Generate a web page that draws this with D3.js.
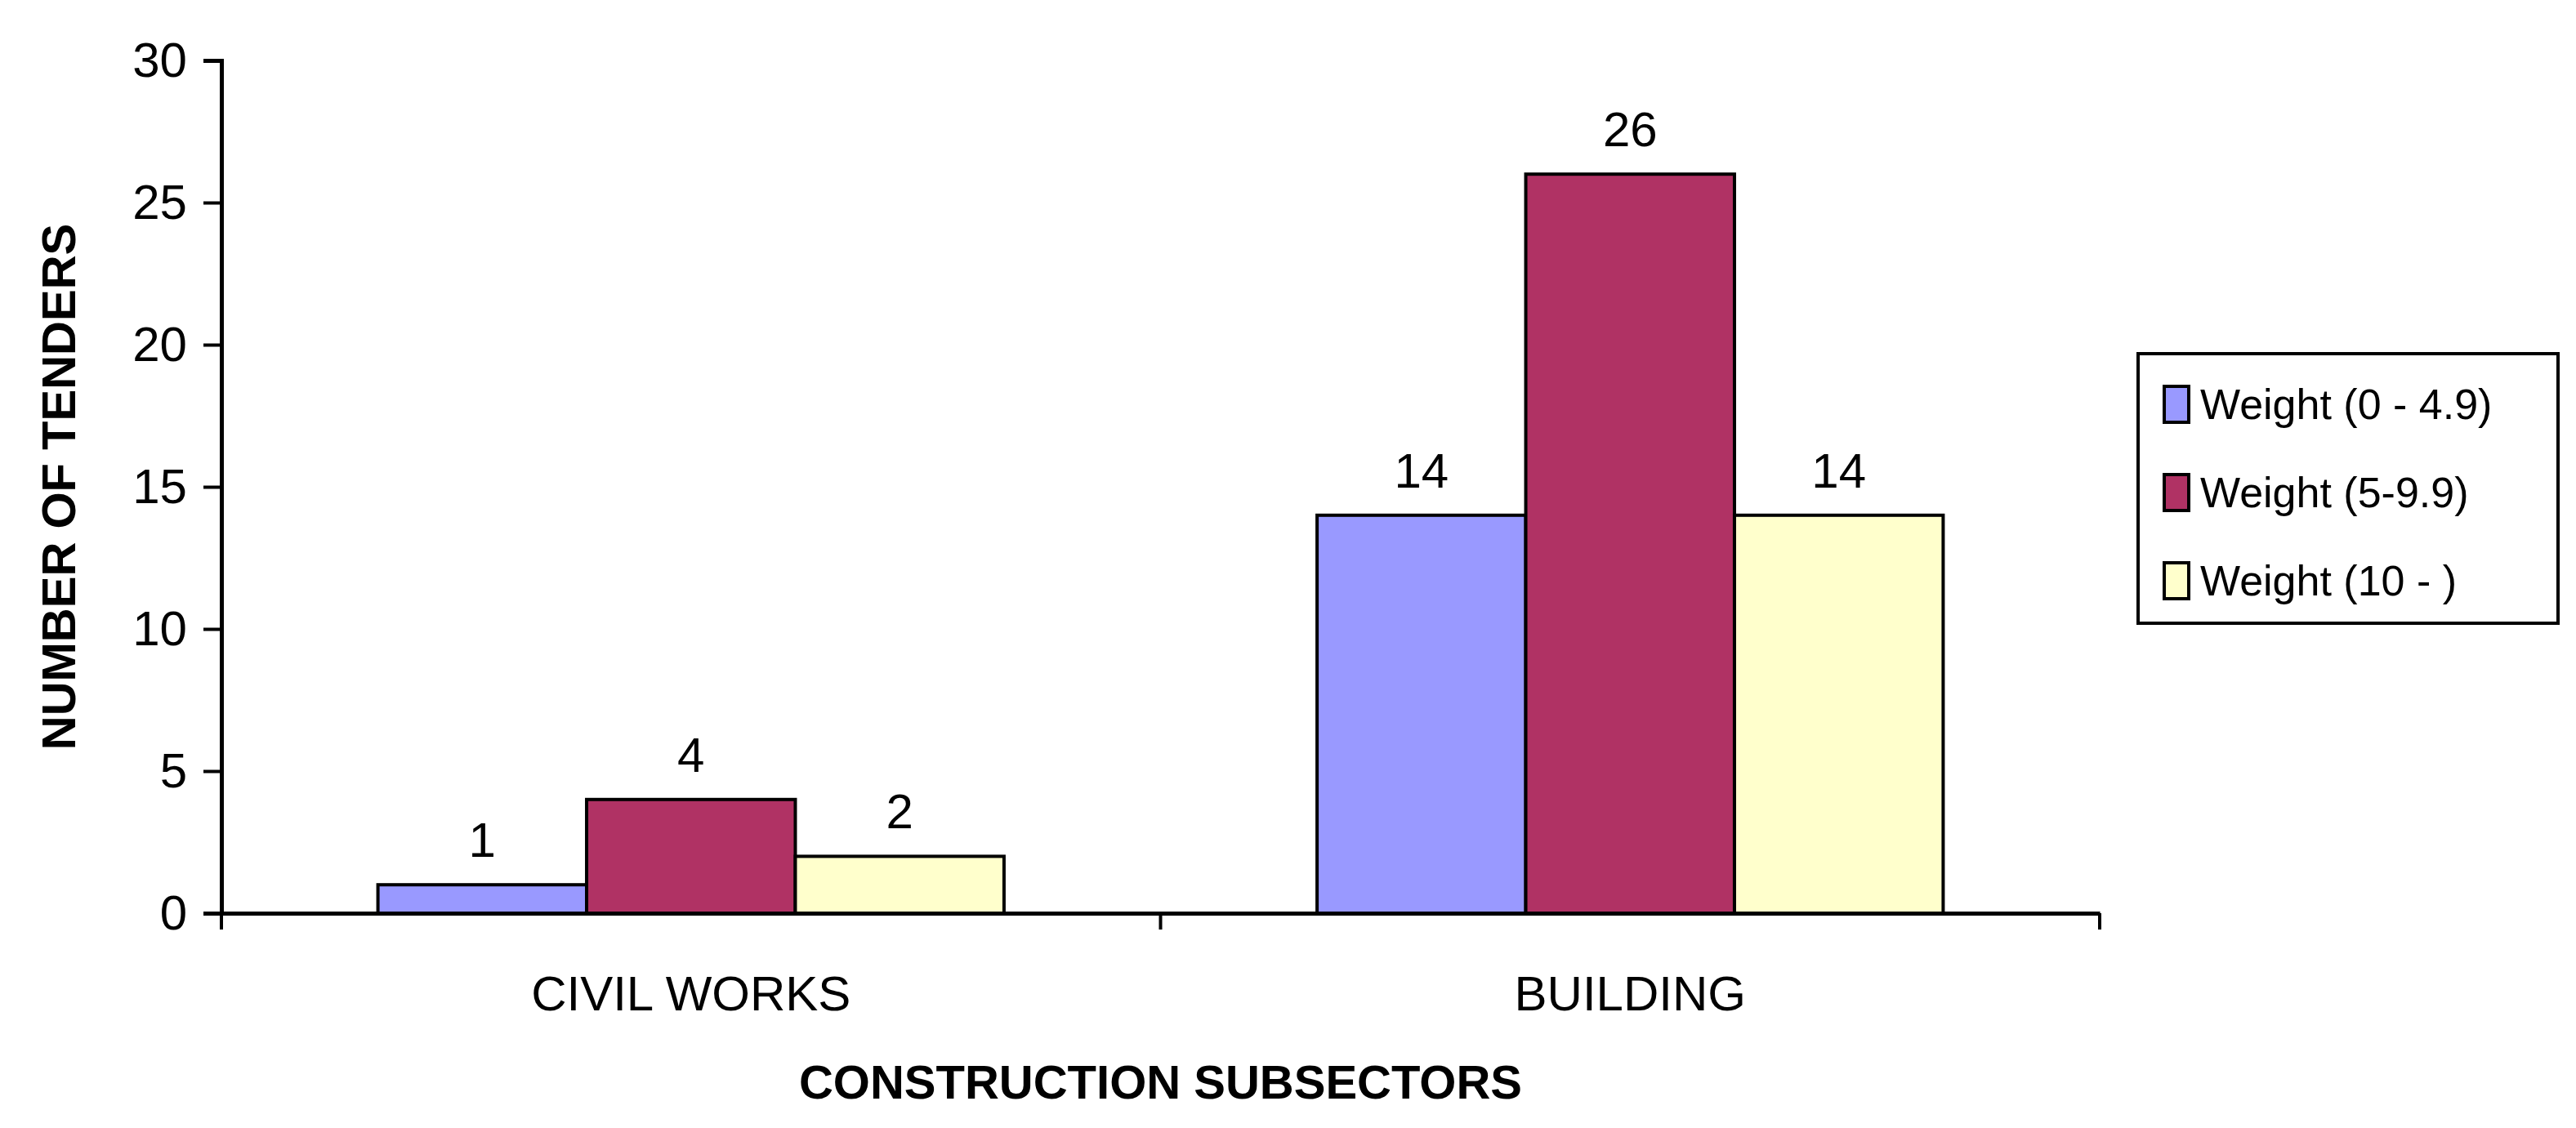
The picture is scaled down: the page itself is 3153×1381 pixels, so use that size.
<!DOCTYPE html>
<html>
<head>
<meta charset="utf-8">
<script src="https://cdn.jsdelivr.net/npm/d3@7"></script>
<style>
  body { margin: 0; background: #fff; }
  text { font-family: Arial, "Liberation Sans", sans-serif; }
</style>
</head>
<body>
<svg width="3153" height="1381"></svg>
<script>
// data
var categories = ["CIVIL WORKS", "BUILDING"];
var seriesNames = ["Weight (0 - 4.9)", "Weight (5-9.9)", "Weight (10 - )"];
var seriesColors = ["#9999FF", "#B03264", "#FFFFCC"];
var lowWeight = [1, 14];
var midWeight = [4, 26];
var highWeight = [2, 14];
var yTicks = [0, 5, 10, 15, 20, 25, 30];

var values = [lowWeight, midWeight, highWeight];

var svg = d3.select("svg"),
    margin = {top: 74, left: 271},
    width = 2570 - 271,
    height = 1118 - 74,
    g = svg.append("g").attr("transform", "translate(" + margin.left + "," + margin.top + ")");

var x0 = d3.scaleBand().domain(categories).range([0, width]).paddingInner(0).paddingOuter(0);
var x1 = d3.scaleBand().domain(d3.range(seriesNames.length))
    .range([x0.bandwidth() / 6, x0.bandwidth() * 5 / 6]);
var y = d3.scaleLinear().domain([0, 30]).range([height, 0]);

// y axis
var yAxis = g.append("g")
    .call(d3.axisLeft(y).tickValues(yTicks).tickSize(22).tickPadding(20));
yAxis.select(".domain").attr("stroke", "#000").attr("stroke-width", 5);
yAxis.selectAll(".tick line").attr("stroke", "#000").attr("stroke-width", 4);
yAxis.selectAll(".tick text").style("font-size", "60px").attr("fill", "#000");

// bars
categories.forEach(function(c, ci) {
  var grp = g.append("g").attr("transform", "translate(" + x0(c) + ",0)");
  values.forEach(function(s, si) {
    grp.append("rect")
        .attr("x", x1(si))
        .attr("y", y(s[ci]))
        .attr("width", x1.bandwidth())
        .attr("height", height - y(s[ci]))
        .attr("fill", seriesColors[si])
        .attr("stroke", "#000")
        .attr("stroke-width", 4);
    grp.append("text")
        .attr("x", x1(si) + x1.bandwidth() / 2)
        .attr("y", y(s[ci]) - 34)
        .attr("text-anchor", "middle")
        .style("font-size", "60px")
        .text(s[ci]);
  });
});

// x axis
var xAxis = g.append("g")
    .attr("transform", "translate(0," + height + ")")
    .call(d3.axisBottom(x0).tickSize(0).tickPadding(76));
xAxis.select(".domain").attr("stroke", "#000").attr("stroke-width", 5);
xAxis.selectAll(".tick text").style("font-size", "60px").attr("fill", "#000");
g.selectAll(".xtick").data([0, width / 2, width]).enter().append("line")
    .attr("x1", function(d) { return d; }).attr("x2", function(d) { return d; })
    .attr("y1", height).attr("y2", height + 20)
    .attr("stroke", "#000").attr("stroke-width", 4);

// axis titles
svg.append("text")
    .attr("x", margin.left + width / 2).attr("y", 1345)
    .attr("text-anchor", "middle")
    .style("font-size", "58px").style("font-weight", "bold")
    .text("CONSTRUCTION SUBSECTORS");
svg.append("text")
    .attr("transform", "translate(92," + (margin.top + height / 2) + ") rotate(-90)")
    .attr("text-anchor", "middle")
    .style("font-size", "58px").style("font-weight", "bold")
    .text("NUMBER OF TENDERS");

// legend
var legend = svg.append("g").attr("transform", "translate(2617,433)");
legend.append("rect").attr("width", 514).attr("height", 330)
    .attr("fill", "#fff").attr("stroke", "#000").attr("stroke-width", 4);
seriesNames.forEach(function(n, i) {
  var row = legend.append("g").attr("transform", "translate(0," + (60 + i * 108) + ")");
  row.append("rect").attr("x", 32).attr("y", -20).attr("width", 30).attr("height", 44)
      .attr("fill", seriesColors[i]).attr("stroke", "#000").attr("stroke-width", 4);
  row.append("text").attr("x", 76).attr("y", 20)
      .style("font-size", "52px").attr("textLength", null).text(n);
});
</script>
</body>
</html>
